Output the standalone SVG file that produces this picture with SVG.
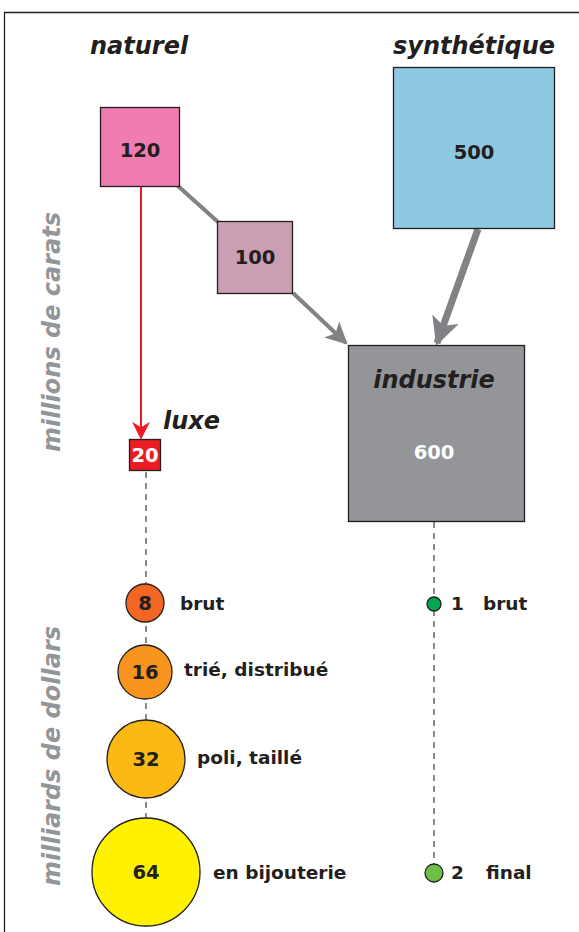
<svg xmlns="http://www.w3.org/2000/svg" width="579" height="932" viewBox="0 0 579 932">
<style>
text{font-family:"DejaVu Sans","Liberation Sans",sans-serif;font-weight:bold;fill:#231f20}
.t{font-size:24px;font-style:italic}
.ax{font-size:24px;font-style:italic;fill:#939598}
.n{font-size:19.5px;text-anchor:middle}
.w{fill:#fff}
.l{font-size:18.5px}
.box{stroke:#231f20;stroke-width:1.3}
.dash{stroke:#4d4d4f;stroke-width:1.3;stroke-dasharray:6,5;fill:none}
</style>
<defs>
<marker id="ag" viewBox="0 0 10 10" refX="9" refY="5" markerWidth="5.5" markerHeight="5.5" orient="auto" markerUnits="strokeWidth"><path d="M0,0 L10,5 L0,10 L2.5,5 z" fill="#808285"/></marker>
<marker id="ag2" viewBox="0 0 10 10" refX="9" refY="5" markerWidth="4" markerHeight="4" orient="auto" markerUnits="strokeWidth"><path d="M0,0 L10,5 L0,10 L2.5,5 z" fill="#808285"/></marker>
<marker id="ar" viewBox="0 0 10 10" refX="9" refY="5" markerWidth="9" markerHeight="9" orient="auto" markerUnits="strokeWidth"><path d="M0,0 L10,5 L0,10 L3,5 z" fill="#ed1c24"/></marker>
</defs>
<path d="M4.5,932 V12.5 H579" fill="none" stroke="#231f20" stroke-width="1.3"/>
<text class="t" x="90" y="54">naturel</text>
<text class="t" x="393" y="54">synthétique</text>
<text class="ax" transform="translate(60,332) rotate(-90)" text-anchor="middle">millions de carats</text>
<text class="ax" transform="translate(60,756) rotate(-90)" text-anchor="middle">milliards de dollars</text>
<g id="connectors">
<line x1="178" y1="186" x2="218" y2="222" stroke="#808285" stroke-width="4"/>
<line x1="293" y1="293" x2="346" y2="343" stroke="#808285" stroke-width="4" marker-end="url(#ag)"/>
<line x1="478" y1="229" x2="437" y2="343" stroke="#808285" stroke-width="7" marker-end="url(#ag2)"/>
<line x1="141" y1="186" x2="141" y2="438" stroke="#ed1c24" stroke-width="2" marker-end="url(#ar)"/>
<line class="dash" x1="146" y1="472" x2="146" y2="818"/>
<line class="dash" x1="434" y1="522" x2="434" y2="864"/>
</g>
<g id="n120"><rect class="box" x="100.5" y="107.5" width="79" height="79" fill="#f07cb1"/><text class="n" x="140" y="157">120</text></g>
<g id="n100"><rect class="box" x="217.5" y="221.5" width="75" height="72" fill="#cc9eb4"/><text class="n" x="255" y="264">100</text></g>
<g id="n500"><rect class="box" x="393.5" y="67.5" width="161" height="161" fill="#8ec8e3"/><text class="n" x="474" y="159">500</text></g>
<g id="industrie"><rect class="box" x="348.5" y="345.5" width="176" height="176" fill="#939598"/><text class="t" x="434" y="388" text-anchor="middle">industrie</text><text class="n w" x="434" y="459">600</text></g>
<g id="luxe"><text class="t" x="163" y="429">luxe</text><rect class="box" x="129.5" y="439.5" width="31" height="31" fill="#ed1c24"/><text class="n w" x="145" y="462">20</text></g>
<g id="c8"><circle class="box" cx="145" cy="603" r="19" fill="#f26522"/><text class="n" x="145" y="610">8</text><text class="l" x="180" y="610">brut</text></g>
<g id="c16"><circle class="box" cx="145" cy="672" r="27" fill="#f7941d"/><text class="n" x="145" y="679">16</text><text class="l" x="184" y="676">trié, distribué</text></g>
<g id="c32"><circle class="box" cx="146" cy="759" r="39" fill="#fdb913"/><text class="n" x="146" y="766">32</text><text class="l" x="197" y="764">poli, taillé</text></g>
<g id="c64"><circle class="box" cx="146" cy="872" r="54" fill="#fff200"/><text class="n" x="146" y="879">64</text><text class="l" x="213" y="879">en bijouterie</text></g>
<g id="s1"><circle class="box" cx="434" cy="604" r="7" fill="#00a651"/><text class="l" x="451" y="610">1</text><text class="l" x="483" y="610">brut</text></g>
<g id="s2"><circle class="box" cx="434" cy="873" r="9" fill="#6dbe45"/><text class="l" x="451" y="879">2</text><text class="l" x="486" y="879">final</text></g>
</svg>
